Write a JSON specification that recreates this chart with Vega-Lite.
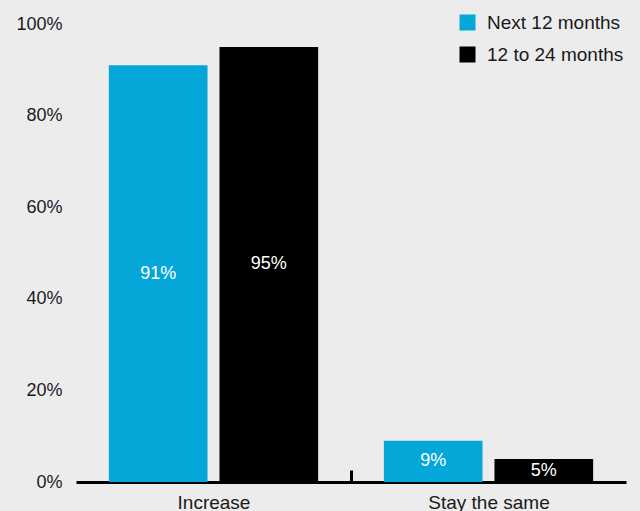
{
  "$schema": "https://vega.github.io/schema/vega-lite/v6.json",
  "width": 550,
  "height": 458,
  "autosize": {"type": "none"},
  "padding": {"left": 76, "top": 24, "right": 14, "bottom": 29},
  "background": "#ececec",
  "config": {"view": {"stroke": null}, "font": "Liberation Sans"},
  "data": {
    "values": [
      {"change": "Increase", "period": "Next 12 months", "value": 91},
      {"change": "Increase", "period": "12 to 24 months", "value": 95},
      {"change": "Stay the same", "period": "Next 12 months", "value": 9},
      {"change": "Stay the same", "period": "12 to 24 months", "value": 5}
    ]
  },
  "transform": [
    {"calculate": "datum.value / 2", "as": "mid"},
    {"calculate": "datum.value + '%'", "as": "label"}
  ],
  "encoding": {
    "x": {
      "field": "change",
      "type": "nominal",
      "sort": ["Increase", "Stay the same"],
      "scale": {"paddingInner": 0, "paddingOuter": 0},
      "axis": {
        "title": null,
        "labelAngle": 0,
        "labelFontSize": 19,
        "labelColor": "#1a1a1a",
        "domainColor": "#000000",
        "domainWidth": 3,
        "tickBand": "extent",
        "tickSize": -12,
        "tickWidth": 3,
        "tickColor": "#000000",
        "tickOpacity": {"condition": {"test": "datum.value === 'Increase'", "value": 1}, "value": 0},
        "labelPadding": 23
      }
    },
    "xOffset": {
      "field": "period",
      "type": "nominal",
      "sort": ["Next 12 months", "12 to 24 months"],
      "scale": {"paddingInner": 0.108, "paddingOuter": 0.297}
    }
  },
  "layer": [
    {
      "mark": {"type": "bar"},
      "encoding": {
        "y": {
          "field": "value",
          "type": "quantitative",
          "scale": {"domain": [0, 100]},
          "axis": {
            "title": null,
            "values": [0, 20, 40, 60, 80, 100],
            "labelExpr": "datum.value + '%'",
            "domain": false,
            "ticks": false,
            "grid": false,
            "labelPadding": 14,
            "labelFontSize": 18,
            "labelColor": "#1a1a1a"
          }
        },
        "color": {
          "field": "period",
          "type": "nominal",
          "sort": ["Next 12 months", "12 to 24 months"],
          "scale": {"domain": ["Next 12 months", "12 to 24 months"], "range": ["#05a6d8", "#000000"]},
          "legend": {
            "title": null,
            "orient": "none",
            "legendX": 382,
            "legendY": -11,
            "symbolType": "square",
            "symbolSize": 256,
            "symbolStrokeWidth": 0,
            "labelFontSize": 19,
            "labelColor": "#1a1a1a",
            "rowPadding": 12,
            "labelOffset": 10
          }
        }
      }
    },
    {
      "mark": {"type": "text", "color": "#ffffff", "fontSize": 18},
      "encoding": {
        "y": {"field": "mid", "type": "quantitative"},
        "text": {"field": "label", "type": "nominal"}
      }
    }
  ]
}
